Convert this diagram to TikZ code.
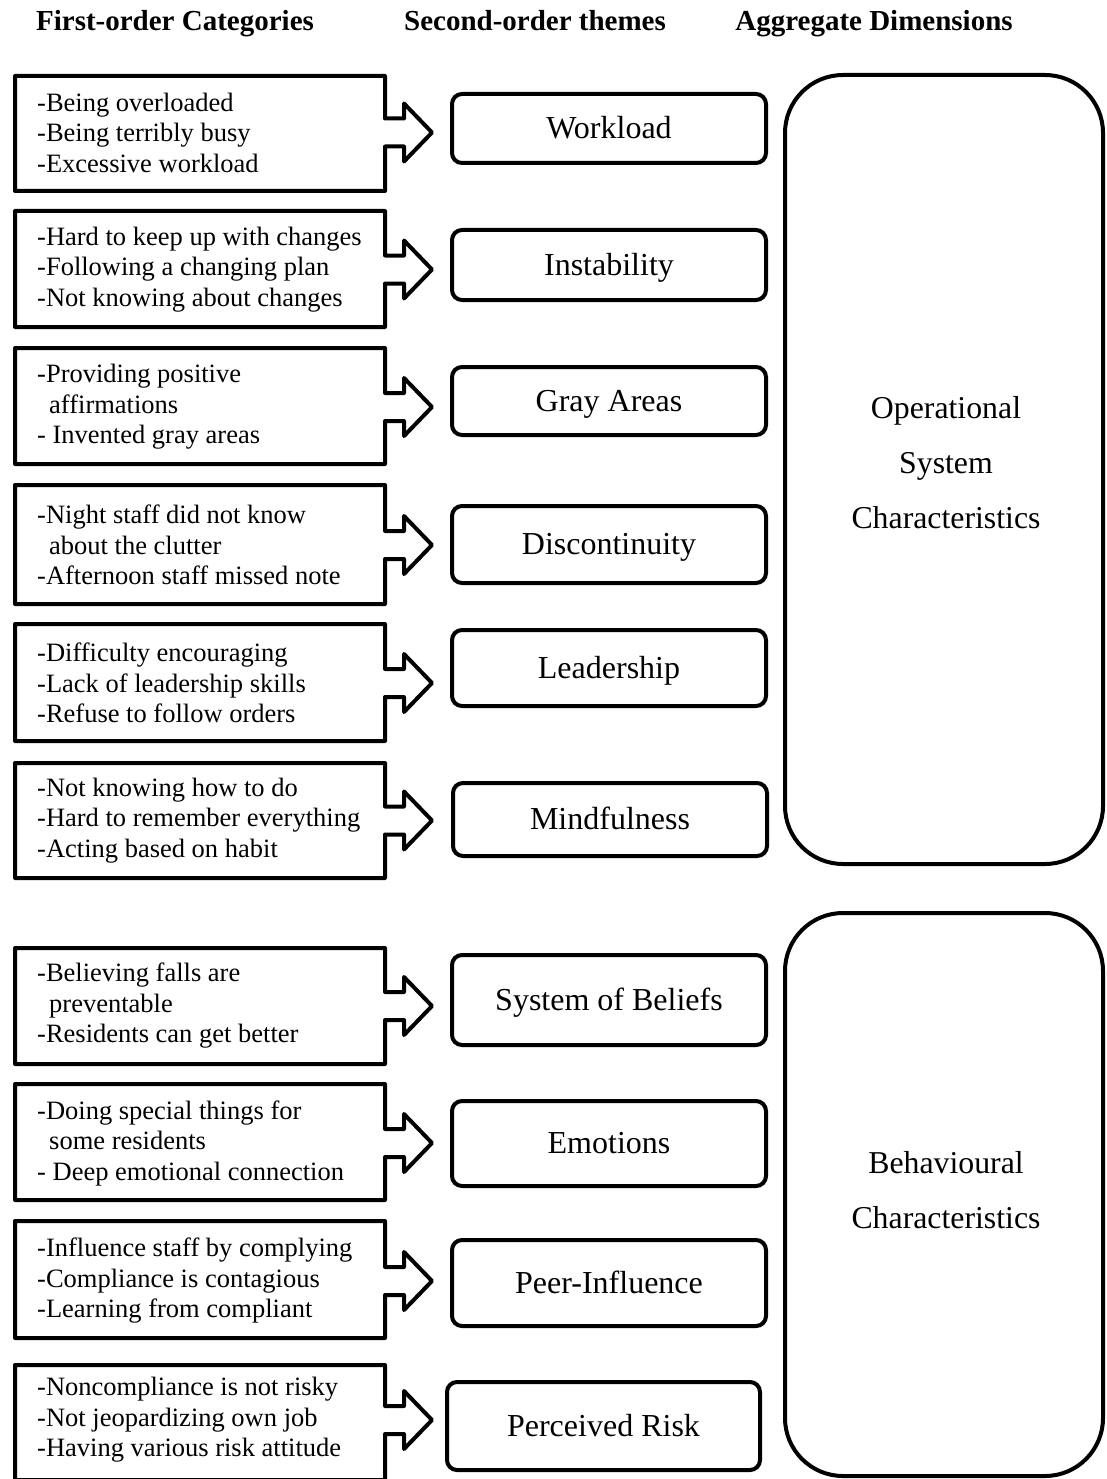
\documentclass[tikz,border=0pt]{standalone}
\usepackage{fontspec}
\setmainfont{Liberation Serif}
\newcommand\catbox[5]{%
  \draw[outline] (15,#2) -- (385,#2) -- (385,#4-14) -- (404,#4-14) -- (404,#4-29)
    -- (432,#4) -- (404,#4+29) -- (404,#4+14) -- (385,#4+14) -- (385,#3) -- (15,#3) -- cycle;
  \node[cattext] (#1) at (37,#4) {#5};}
\newcommand\ind{\hspace*{12pt}}
\begin{document}
\begin{tikzpicture}[x=1pt,y=-1pt,
  outline/.style={draw=black,line width=4pt,line join=round},
  cattext/.style={anchor=west,align=left,inner sep=0pt,font=\fontsize{26.5}{30.5}\selectfont},
  theme/.style={draw=black,line width=4pt,rounded corners=10pt,minimum width=314pt,
     inner sep=0pt,text height=26pt,text depth=6pt,font=\fontsize{32}{36}\selectfont},
  agg/.style={draw=black,line width=4pt,rounded corners=58pt,minimum width=318pt,inner sep=0pt},
  aggtext/.style={align=center,inner sep=0pt,font=\fontsize{31.8}{55}\selectfont},
  head/.style={anchor=base,inner sep=0pt,font=\fontsize{29}{34}\selectfont\bfseries}]
\useasboundingbox (0,0) rectangle (1107,1479);

% headers
\node[head] (h1) at (175,31) {First-order Categories};
\node[head] (h2) at (535,31) {Second-order themes};
\node[head] (h3) at (874,31) {Aggregate Dimensions};

% first-order categories
\catbox{c1}{76}{191}{132.5}{-Being overloaded\\-Being terribly busy\\-Excessive workload}
\catbox{c2}{211}{327}{269.5}{-Hard to keep up with changes\\-Following a changing plan\\-Not knowing about changes}
\catbox{c3}{348}{464}{407}{-Providing positive\\\ind affirmations\\- Invented gray areas}
\catbox{c4}{485}{604}{545}{-Night staff did not know\\\ind about the clutter\\-Afternoon staff missed note}
\catbox{c5}{624}{741}{683}{-Difficulty encouraging\\-Lack of leadership skills\\-Refuse to follow orders}
\catbox{c6}{763}{878}{820.5}{-Not knowing how to do\\-Hard to remember everything\\-Acting based on habit}
\catbox{c7}{948}{1064}{1006}{-Believing falls are\\\ind preventable\\-Residents can get better}
\catbox{c8}{1084}{1200}{1143}{-Doing special things for\\\ind some residents\\- Deep emotional connection}
\catbox{c9}{1221}{1338}{1281}{-Influence staff by complying\\-Compliance is contagious\\-Learning from compliant}
\catbox{c10}{1365}{1480}{1420}{-Noncompliance is not risky\\-Not jeopardizing own job\\-Having various risk attitude}

% second-order themes
\node[theme,minimum height=69pt] (t1) at (609,128.5) {Workload};
\node[theme,minimum height=70pt] (t2) at (609,265) {Instability};
\node[theme,minimum height=68pt] (t3) at (609,401) {Gray Areas};
\node[theme,minimum height=77pt] (t4) at (609,544.5) {Discontinuity};
\node[theme,minimum height=76pt] (t5) at (609,668) {Leadership};
\node[theme,minimum height=73pt] (t6) at (610,819.5) {Mindfulness};
\node[theme,minimum height=90pt] (t7) at (609,1000) {System of Beliefs};
\node[theme,minimum height=85pt] (t8) at (609,1143.5) {Emotions};
\node[theme,minimum height=86pt] (t9) at (609,1283) {Peer-Influence};
\node[theme,minimum height=88pt,minimum width=313pt] (t10) at (603.5,1426) {Perceived Risk};

% aggregate dimensions
\node[agg,minimum height=789pt] (a1) at (944,469.5) {};
\node[agg,minimum height=563pt] (a2) at (944,1194.5) {};
\node[aggtext] (a1t) at (946,463) {Operational\\System\\Characteristics};
\node[aggtext] (a2t) at (946,1190) {Behavioural\\Characteristics};
\end{tikzpicture}
\end{document}
